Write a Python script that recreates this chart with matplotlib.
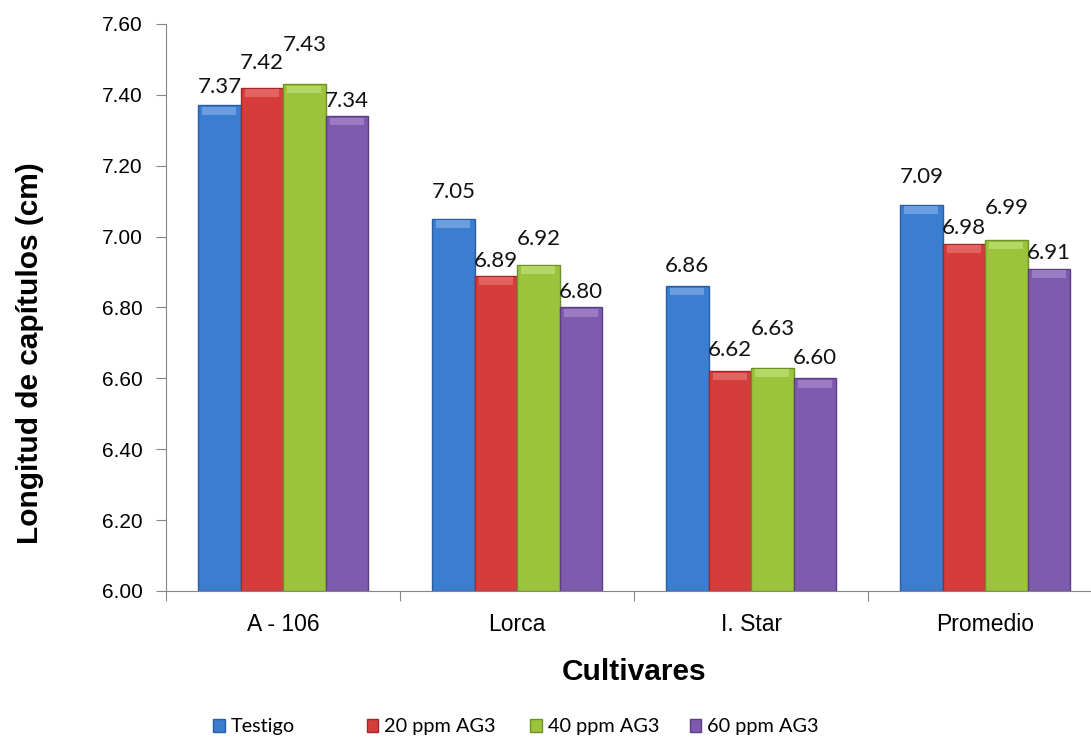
import matplotlib.pyplot as plt
import numpy as np

cultivares = ['A - 106', 'Lorca', 'I. Star', 'Promedio']
series = ['Testigo', '20 ppm AG3', '40 ppm AG3', '60 ppm AG3']
testigo = [7.37, 7.05, 6.86, 7.09]
ppm20 = [7.42, 6.89, 6.62, 6.98]
ppm40 = [7.43, 6.92, 6.63, 6.99]
ppm60 = [7.34, 6.80, 6.60, 6.91]

colores = ['#3b7dd0', '#d53c3c', '#9bc43c', '#7f5bae']
bordes = ['#2a5e9e', '#a02828', '#6f9124', '#5a3f80']
claros = ['#6a9ee0', '#e36262', '#b3d866', '#9a7bc4']

# separacion vertical de cada etiqueta sobre su barra (px)
sep = [[18, 25, 39, 15],
       [27, 15, 26, 15],
       [20, 21, 39, 20],
       [28, 16, 32, 16]]

fig = plt.figure(figsize=(10.91, 7.38), dpi=100)
ax = fig.add_axes([0.1522, 0.1992, 0.858, 0.7683])

x = np.arange(len(cultivares)) + 0.5
ancho = 0.1816
datos = [testigo, ppm20, ppm40, ppm60]

handles = []
for k, valores in enumerate(datos):
    pos = x + (k - 1.5) * ancho
    b = ax.bar(pos, np.array(valores) - 6.0, bottom=6.0, width=ancho,
               color=colores[k], edgecolor=bordes[k], linewidth=1.0,
               label=series[k], zorder=2)
    handles.append(b)
    # bisel superior
    ax.bar(pos, 0.022, bottom=np.array(valores) - 0.026, width=ancho * 0.8,
           color=claros[k], linewidth=0, zorder=3)
    for i, v in enumerate(valores):
        ax.annotate(f'{v:.2f}', (pos[i], v), xytext=(0, sep[i][k] * 0.72),
                    textcoords='offset points', ha='center', va='center',
                    fontsize=16, family='Lato', color='#111111')

ax.set_ylim(6.0, 7.6)
ax.set_xlim(0, 4)
ax.set_yticks(np.arange(6.0, 7.61, 0.2))
ax.set_yticklabels([f'{t:.2f}' for t in np.arange(6.0, 7.61, 0.2)],
                   fontsize=15, family='Liberation Sans')
ax.set_xticks(np.arange(0, 5))
ax.set_xticklabels([])
ax.set_xticks(x, minor=True)
ax.set_xticklabels(cultivares, minor=True, fontsize=16.5, family='Liberation Sans')
ax.tick_params(axis='x', which='major', length=7, color='#868686')
ax.tick_params(axis='x', which='minor', length=0, pad=16)
ax.tick_params(axis='y', length=7, color='#868686', pad=10)

for s in ['top', 'right']:
    ax.spines[s].set_visible(False)
for s in ['left', 'bottom']:
    ax.spines[s].set_color('#868686')

ax.set_xlabel('Cultivares', fontsize=21.5, fontweight='bold',
              family='Liberation Sans', labelpad=16)
ax.set_ylabel('Longitud de capítulos (cm)', fontsize=21.5, fontweight='bold',
              family='Liberation Sans')
ax.yaxis.set_label_coords(-0.13, 0.42)

# leyenda con casillas de ancho fijo
leg_x = [0.195, 0.336, 0.486, 0.632]
for k, h in enumerate(handles):
    fig.legend([h], [series[k]], loc='center left',
               bbox_to_anchor=(leg_x[k], 0.015), frameon=False,
               prop={'family': 'Lato', 'size': 14.3},
               handlelength=0.6, handleheight=0.6, handletextpad=0.3,
               borderpad=0, borderaxespad=0)

fig.savefig('out.png', dpi=100)
